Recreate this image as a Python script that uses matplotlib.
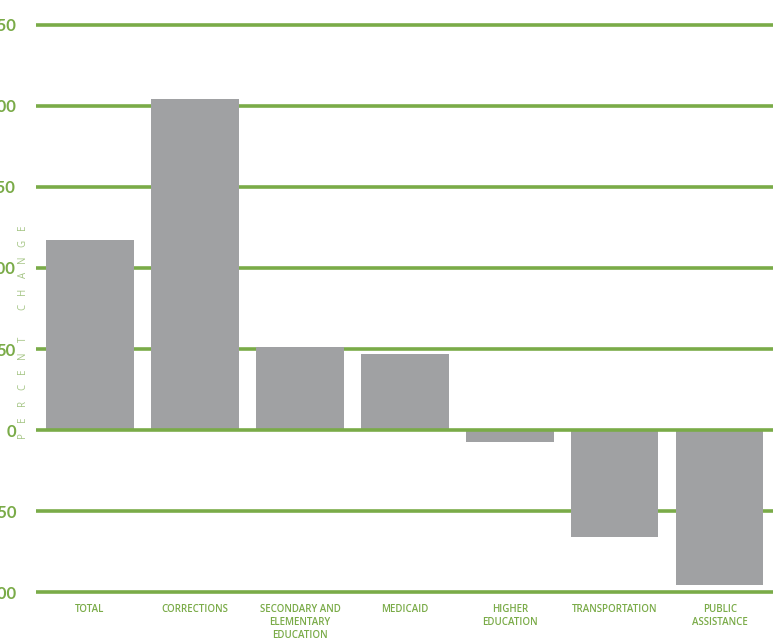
import matplotlib
matplotlib.use("Agg")
import matplotlib.pyplot as plt

categories = [
    "TOTAL",
    "CORRECTIONS",
    "SECONDARY AND\nELEMENTARY\nEDUCATION",
    "MEDICAID",
    "HIGHER\nEDUCATION",
    "TRANSPORTATION",
    "PUBLIC\nASSISTANCE",
]
percent_change = [117, 204.5, 51, 47, -7.5, -66, -95.5]
y_ticks = [-100, -50, 0, 50, 100, 150, 200, 250]
y_tick_labels = ["-100", "-50", "0", "50", "100", "150", "200", "250"]
axis_label = "PERCENT CHANGE"

GREEN = "#7aab48"
LIGHT_GREEN = "#a5c585"
GRAY = "#a0a1a3"

W, H = 777, 641
fig = plt.figure(figsize=(W / 100, H / 100), dpi=100)
# axes box in pixels: x 36..773, y 20..597 (from top)
ax = fig.add_axes([36 / W, 44 / H, 737 / W, 577 / H])

x = list(range(len(categories)))
ax.bar(x, percent_change, width=0.83, color=GRAY, zorder=2)

for t in y_ticks:
    ax.axhline(t, color=GREEN, lw=2.6, zorder=3 if t == 0 else 1)

ax.set_xlim(-0.515, 6.506)
ax.set_ylim(-103, 253)

for s in ax.spines.values():
    s.set_visible(False)

# the reference is cropped on the left, so these labels are cut off too
ax.set_yticks(y_ticks)
ax.set_yticklabels(y_tick_labels, fontsize=12, color=GREEN, family="Lato", fontweight="bold")
ax.tick_params(axis="y", length=0, pad=14.4)

ax.set_xticks(x)
ax.set_xticklabels(categories, fontsize=7, color=GREEN, family="Open Sans",
                   fontweight="semibold", linespacing=1.25, va="top")
ax.tick_params(axis="x", length=0, pad=5)

# spaced vertical axis label, letters placed one by one
start_y, pitch = 435, 16
for i, ch in enumerate(axis_label):
    if ch == " ":
        continue
    fig.text(23 / W, 1 - (start_y - i * pitch) / H, ch, rotation=90,
             fontsize=7, color=LIGHT_GREEN, family="Open Sans",
             ha="center", va="center")

fig.savefig("out.png", dpi=100)
